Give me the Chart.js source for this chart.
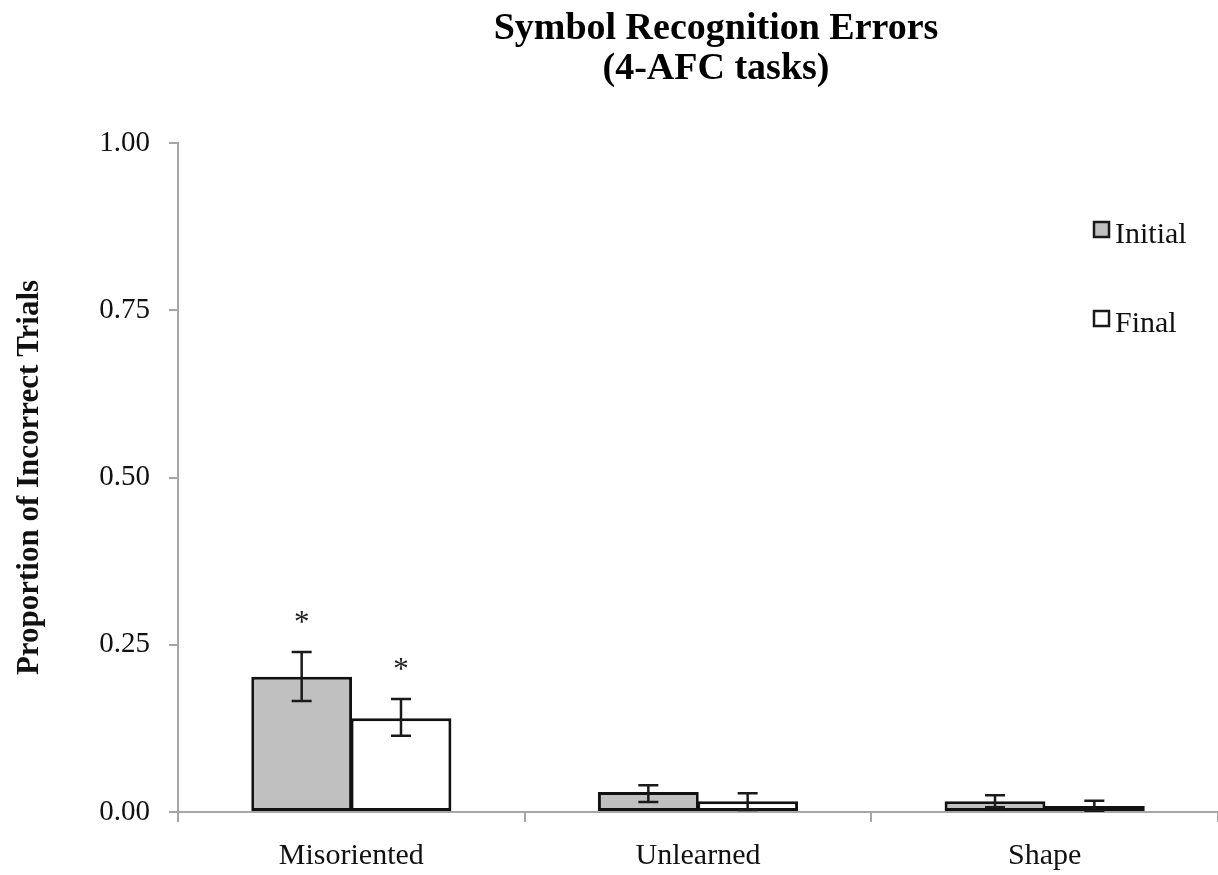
<!DOCTYPE html>
<html>
<head>
<meta charset="utf-8">
<script src="https://cdn.jsdelivr.net/npm/chart.js@4.4.1/dist/chart.umd.min.js"></script>
<style>
  html, body { margin: 0; padding: 0; background: #fff; overflow: hidden; }
  #wrap { width: 1218px; height: 875px; }
</style>
</head>
<body>
<div id="wrap"><canvas id="errChart" width="1218" height="875"></canvas></div>
<script>
// values
const categories = ["Misoriented", "Unlearned", "Shape"];
const initialVals = [0.202, 0.030, 0.016];
const initialLow = [0.166, 0.015, 0.007];
const initialHigh = [0.239, 0.040, 0.025];
const finalVals = [0.140, 0.016, 0.009];
const finalLow = [0.114, 0.003, 0.002];
const finalHigh = [0.169, 0.028, 0.017];
const initialStar = [true, false, false];
const finalStar = [true, false, false];
const yTicks = [0, 0.25, 0.5, 0.75, 1];

const SERIF = "'Liberation Serif', 'Times New Roman', serif";
const AXIS_GRAY = "#a6a6a6";

const errorBars = {
    id: "errorBars",
    afterDatasetsDraw(chart) {
        const ctx = chart.ctx;
        const y = chart.scales.y;
        const sets = [
            { low: initialLow, high: initialHigh, star: initialStar },
            { low: finalLow, high: finalHigh, star: finalStar },
        ];
        ctx.save();
        sets.forEach((s, di) => {
            const meta = chart.getDatasetMeta(di);
            meta.data.forEach((bar, i) => {
                const x = bar.x;
                const top = y.getPixelForValue(s.high[i]);
                const bot = y.getPixelForValue(s.low[i]);
                ctx.strokeStyle = "#1a1a1a";
                ctx.lineWidth = 2.5;
                ctx.beginPath();
                ctx.moveTo(x, top); ctx.lineTo(x, bot);
                ctx.moveTo(x - 10, top); ctx.lineTo(x + 10, top);
                ctx.moveTo(x - 10, bot); ctx.lineTo(x + 10, bot);
                ctx.stroke();
                if (s.star[i]) {
                    ctx.fillStyle = "#222";
                    ctx.font = "31px " + SERIF;
                    ctx.textAlign = "center";
                    ctx.textBaseline = "alphabetic";
                    ctx.fillText("*", x, top - 20);
                }
            });
        });
        ctx.restore();
    },
};

const titleAndLegend = {
    id: "titleAndLegend",
    afterDraw(chart) {
        const ctx = chart.ctx;
        ctx.save();
        ctx.fillStyle = "#000";
        ctx.textAlign = "center";
        ctx.textBaseline = "alphabetic";
        ctx.font = "bold 38px " + SERIF;
        ctx.fillText("Symbol Recognition Errors", 716, 39);
        ctx.fillText("(4-AFC tasks)", 716, 79);

        const items = [
            { label: "Initial", fill: "#c0c0c0", y: 222 },
            { label: "Final", fill: "#ffffff", y: 311 },
        ];
        ctx.textAlign = "left";
        ctx.font = "30px " + SERIF;
        items.forEach((it) => {
            ctx.fillStyle = it.fill;
            ctx.fillRect(1094, it.y, 15, 15);
            ctx.strokeStyle = "#1a1a1a";
            ctx.lineWidth = 2.5;
            ctx.strokeRect(1094, it.y, 15, 15);
            ctx.fillStyle = "#111";
            ctx.fillText(it.label, 1115, it.y + 21);
        });
        ctx.restore();
    },
};

new Chart(document.getElementById("errChart").getContext("2d"), {
    type: "bar",
    data: {
        labels: categories,
        datasets: [
            {
                label: "Initial",
                data: initialVals,
                backgroundColor: "#c0c0c0",
                borderColor: "#111",
                borderWidth: 3,
                borderSkipped: false,
                barPercentage: 1.015,
                categoryPercentage: 0.573,
            },
            {
                label: "Final",
                data: finalVals,
                backgroundColor: "#ffffff",
                borderColor: "#111",
                borderWidth: 3,
                borderSkipped: false,
                barPercentage: 1.015,
                categoryPercentage: 0.573,
            },
        ],
    },
    options: {
        responsive: false,
        animation: false,
        layout: { padding: { top: 143, right: -7, left: 0, bottom: 0 } },
        plugins: {
            legend: { display: false },
            title: { display: false },
            tooltip: { enabled: false },
        },
        scales: {
            x: {
                grid: {
                    offset: true,
                    drawOnChartArea: false,
                    drawTicks: true,
                    tickLength: 10,
                    color: AXIS_GRAY,
                    lineWidth: 2,
                },
                border: { display: true, color: AXIS_GRAY, width: 2 },
                ticks: {
                    color: "#111",
                    padding: 16,
                    font: { family: SERIF, size: 30 },
                },
                afterFit(scale) { scale.height = 63; },
            },
            y: {
                min: 0,
                max: 1,
                afterBuildTicks(scale) {
                    scale.ticks = yTicks.map((v) => ({ value: v }));
                },
                grid: {
                    drawOnChartArea: false,
                    drawTicks: true,
                    tickLength: 9,
                    color: AXIS_GRAY,
                    lineWidth: 2,
                },
                border: { display: true, color: AXIS_GRAY, width: 2 },
                ticks: {
                    color: "#111",
                    padding: 19,
                    font: { family: SERIF, size: 29 },
                    callback: (v) => Number(v).toFixed(2),
                },
                title: {
                    display: true,
                    text: "Proportion of Incorrect Trials",
                    color: "#111",
                    font: { family: SERIF, size: 31, weight: "bold" },
                    padding: { top: 11, bottom: 0 },
                },
                afterFit(scale) { scale.width = 178; },
            },
        },
    },
    plugins: [errorBars, titleAndLegend],
});
</script>
</body>
</html>
